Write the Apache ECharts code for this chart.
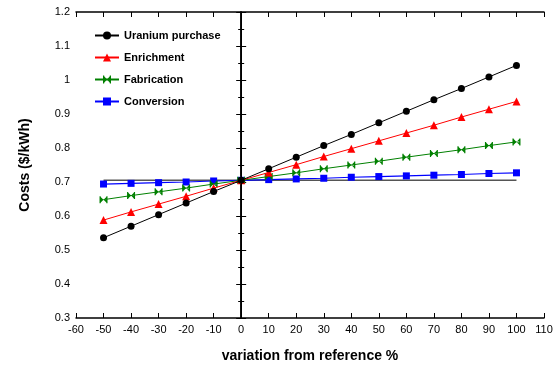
<!DOCTYPE html>
<html>
<head>
<meta charset="utf-8">
<script src="https://cdn.jsdelivr.net/npm/echarts@6/dist/echarts.min.js"></script>
<style>
  html, body { margin: 0; padding: 0; background: #fff; }
  #main { width: 557px; height: 371px; }
</style>
</head>
<body>
<div id="main"></div>
<script>
// variation from reference, %
var variation = [-50, -40, -30, -20, -10, 0, 10, 20, 30, 40, 50, 60, 70, 80, 90, 100];
// costs ($/kWh)
var uranium     = [0.536, 0.570, 0.604, 0.638, 0.672, 0.705, 0.739, 0.773, 0.807, 0.840, 0.874, 0.908, 0.942, 0.975, 1.009, 1.043];
var enrichment  = [0.588, 0.612, 0.635, 0.658, 0.682, 0.705, 0.728, 0.751, 0.775, 0.798, 0.821, 0.844, 0.867, 0.891, 0.914, 0.937];
var fabrication = [0.648, 0.660, 0.671, 0.682, 0.694, 0.705, 0.716, 0.727, 0.739, 0.750, 0.761, 0.773, 0.784, 0.795, 0.807, 0.818];
var conversion  = [0.694, 0.696, 0.698, 0.700, 0.703, 0.705, 0.707, 0.709, 0.711, 0.714, 0.716, 0.718, 0.720, 0.722, 0.725, 0.727];
var referenceCost = 0.705;

function pairs(vals) {
  return variation.map(function (x, i) { return [x, vals[i]]; });
}

// bowtie marker: two triangles meeting in the middle, bars at the ends
var bowtie = 'path://M0,0L1.5,0L1.5,10L0,10Z M8.5,0L10,0L10,10L8.5,10Z M1.5,1L5,5L1.5,9Z M8.5,1L5,5L8.5,9Z M0,4.4L10,4.4L10,5.6L0,5.6Z';
var font = 'Liberation Sans, Arial, sans-serif';

var myChart = echarts.init(document.getElementById('main'));

var option = {
  animation: false,
  textStyle: { fontFamily: font },
  grid: { left: 76, right: 13, top: 12, bottom: 53 },
  legend: {
    orient: 'vertical',
    left: 89,
    top: 25,
    itemWidth: 24,
    itemHeight: 10,
    itemGap: 11,
    textStyle: { fontFamily: font, fontSize: 11, fontWeight: 'bold', color: '#000' },
    data: ['Uranium purchase', 'Enrichment', 'Fabrication', 'Conversion']
  },
  xAxis: [
    {
      type: 'value', min: -60, max: 110, interval: 10,
      name: 'variation from reference %', nameLocation: 'middle', nameGap: 31,
      nameTextStyle: { fontFamily: font, fontSize: 14, fontWeight: 'bold', color: '#000' },
      axisLine: { lineStyle: { color: '#000', width: 1.5 } },
      axisTick: { inside: true, length: 5, lineStyle: { color: '#000' } },
      axisLabel: { color: '#000', fontSize: 11, margin: 6 },
      splitLine: { show: false }
    },
    {
      type: 'value', min: -60, max: 110, interval: 10, position: 'top',
      axisLine: { lineStyle: { color: '#000', width: 1.5 } },
      axisTick: { inside: true, length: 5, lineStyle: { color: '#000' } },
      axisLabel: { show: false },
      splitLine: { show: false }
    }
  ],
  yAxis: [
    {
      type: 'value', min: 0.3, max: 1.2, interval: 0.1,
      name: 'Costs ($/kWh)', nameLocation: 'middle', nameGap: 44,
      nameTextStyle: { fontFamily: font, fontSize: 14, fontWeight: 'bold', color: '#000' },
      axisLine: { show: true, lineStyle: { color: '#000', width: 1.5 } },
      axisTick: { inside: true, length: 5, lineStyle: { color: '#000' } },
      minorTick: { show: true, splitNumber: 2, length: 3, lineStyle: { color: '#000' } },
      axisLabel: {
        color: '#000', fontSize: 11, margin: 6,
        formatter: function (v) { return String(Math.round(v * 10) / 10); }
      },
      splitLine: { show: false }
    },
    {
      type: 'value', min: 0.3, max: 1.2, interval: 0.1, position: 'right',
      axisLine: { show: true, lineStyle: { color: '#000', width: 1.5 } },
      axisTick: { inside: true, length: 5, lineStyle: { color: '#000' } },
      minorTick: { show: true, splitNumber: 2, length: 3, lineStyle: { color: '#000' } },
      axisLabel: { show: false },
      splitLine: { show: false }
    }
  ],
  series: [
    {
      name: 'reference', type: 'line', symbol: 'none', silent: true,
      data: [[variation[0], referenceCost], [variation[variation.length - 1], referenceCost]],
      lineStyle: { color: '#555', width: 1.5 },
      markLine: {
        silent: true, symbol: 'none', label: { show: false },
        lineStyle: { color: '#000', width: 1, type: 'solid' },
        data: [{ xAxis: 0 }]
      },
      z: 1
    },
    {
      name: 'Uranium purchase', type: 'line', data: pairs(uranium),
      symbol: 'circle', symbolSize: 7,
      itemStyle: { color: '#000' }, lineStyle: { color: '#000', width: 1 }, z: 5
    },
    {
      name: 'Enrichment', type: 'line', data: pairs(enrichment),
      symbol: 'triangle', symbolSize: 8,
      itemStyle: { color: '#ff0000' }, lineStyle: { color: '#ff0000', width: 1 }, z: 4
    },
    {
      name: 'Fabrication', type: 'line', data: pairs(fabrication),
      symbol: bowtie, symbolSize: [8, 7],
      itemStyle: { color: '#008000' }, lineStyle: { color: '#008000', width: 1 }, z: 3
    },
    {
      name: 'Conversion', type: 'line', data: pairs(conversion),
      symbol: 'rect', symbolSize: 7,
      itemStyle: { color: '#0000ff' }, lineStyle: { color: '#0000ff', width: 1.2 }, z: 2
    }
  ]
};

myChart.setOption(option);
</script>
</body>
</html>
